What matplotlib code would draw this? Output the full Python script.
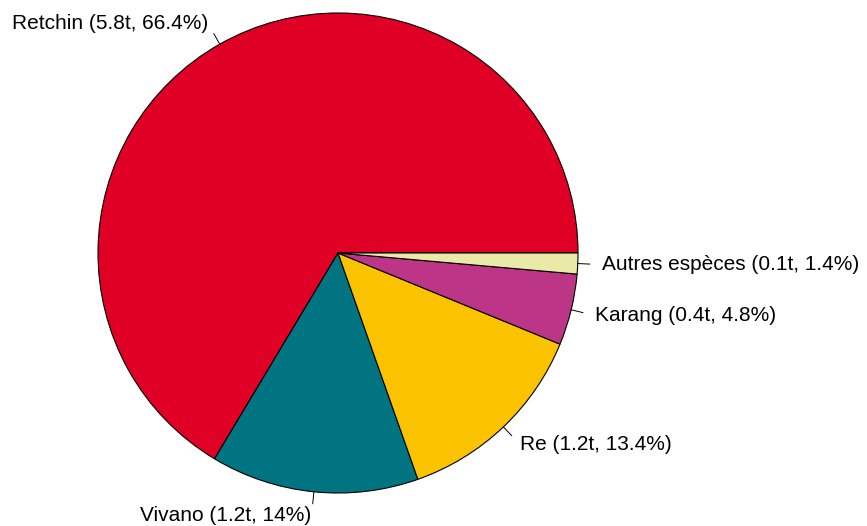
import numpy as np
from matplotlib import pyplot as plt

plt.rcParams['font.family'] = ['Liberation Sans', 'DejaVu Sans']

# data
species = ['Retchin', 'Vivano', 'Re', 'Karang', 'Autres espèces']
tonnes = ['5.8', '1.2', '1.2', '0.4', '0.1']
percent = [66.4, 14, 13.4, 4.8, 1.4]
colors = ['#E00026', '#007480', '#FBC200', '#BD3586', '#EAEAA8']

labels = ['%s (%st, %s%%)' % (s, t, ('%g' % p)) for s, t, p in zip(species, tonnes, percent)]

fig = plt.figure(figsize=(8.67, 5.26), dpi=100)
ax = fig.add_axes([0, 0, 1, 1])

cx, cy, r = 338, 526 - 253, 240
ax.pie(percent, colors=colors, startangle=0, counterclock=True,
       radius=r, center=(cx, cy), frame=True,
       wedgeprops=dict(edgecolor='black', linewidth=0.8))

# tick lines and labels (R style: line to 1.05r, text at 1.1r)
total = sum(percent)
start = 0
for p, lab in zip(percent, labels):
  mid = np.deg2rad((start + p / 2) / total * 360)
  c, s = np.cos(mid), np.sin(mid)
  ax.plot([cx + r * c, cx + 1.05 * r * c], [cy + r * s, cy + 1.05 * r * s],
          color='black', linewidth=0.7)
  ax.text(cx + 1.1 * r * c, cy + 1.1 * r * s, lab, fontsize=15,
          ha='left' if c > 0 else 'right', va='center')
  start += p

ax.set_xlim(0, 867)
ax.set_ylim(0, 526)
ax.set_aspect('equal')
ax.axis('off')

plt.savefig('out.png', dpi=100)
